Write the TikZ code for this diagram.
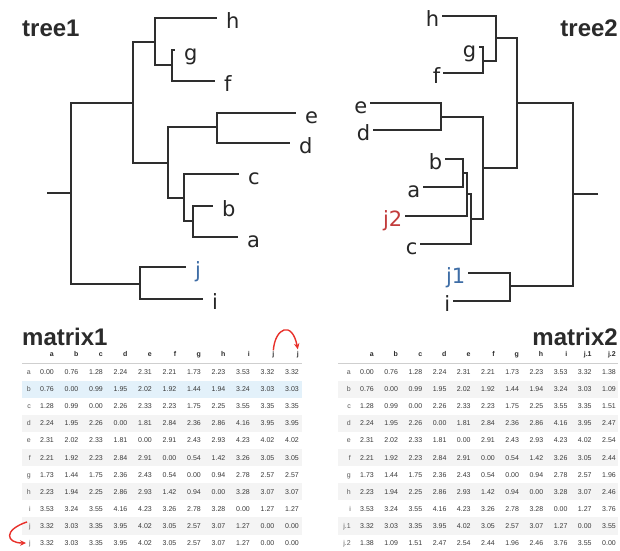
\documentclass[tikz,border=0pt]{standalone}
\usepackage{fontspec}
\setmainfont{Liberation Sans}
\newfontfamily\tipfont{DejaVu Sans}
\usetikzlibrary{arrows.meta}

\definecolor{edgegray}{HTML}{2E2E2E}
\definecolor{tipink}{HTML}{262626}
\definecolor{tipblue}{HTML}{3E6DA6}
\definecolor{tipred}{HTML}{C23B3B}
\definecolor{arrowred}{HTML}{E8302A}
\definecolor{stripe}{HTML}{F4F4F4}
\definecolor{hoverrow}{HTML}{E3F1FA}
\definecolor{rulegray}{HTML}{CFCFCF}
\definecolor{cellink}{HTML}{3A3A3A}
\definecolor{idxink}{HTML}{5A5A5A}
\definecolor{titleink}{HTML}{2B2B2B}

\tikzset{
  branch/.style={draw=edgegray, line width=2.9pt, line join=miter},
  tipL/.style={anchor=west, inner xsep=9pt, inner ysep=0pt, text height=20pt, text depth=0pt,
    font=\tipfont\fontsize{21}{24}\selectfont, text=tipink},
  tipR/.style={anchor=east, inner xsep=2.5pt, inner ysep=0pt, text height=20pt, text depth=0pt,
    font=\tipfont\fontsize{21}{24}\selectfont, text=tipink},
  heading/.style={inner sep=0pt, font=\fontsize{24}{28}\selectfont\bfseries, text=titleink},
  cellnum/.style={anchor=east, inner sep=0pt, text height=5pt, text depth=0pt,
    font=\fontsize{7}{8}\selectfont, text=cellink},
  colhead/.style={anchor=east, inner sep=0pt, text height=5pt, text depth=0pt,
    font=\fontsize{7}{8}\selectfont\bfseries, text=titleink},
  rowhead/.style={anchor=east, inner sep=0pt, text height=5pt, text depth=0pt,
    font=\fontsize{7}{8}\selectfont, text=idxink},
  swaparrow/.style={draw=arrowred, line width=1.4pt, -{Stealth[length=6pt,width=5.5pt]}},
}

\begin{document}
\begin{tikzpicture}[x=1pt,y=-1pt]
\fill[white] (0,0) rectangle (620,550);
\useasboundingbox (0,0) rectangle (620,550);

% ---------------- tree1 (tips on the right) ----------------
\node[heading, anchor=base west] (title1) at (22,36) {tree1};

\coordinate (p1root) at (71,193);
\coordinate (p1stub) at (47,193);
\coordinate (p1top)  at (133,103);
\coordinate (p1hgf)  at (155,42);
\coordinate (p1gf)   at (172,65);
\coordinate (p1low)  at (168,163);
\coordinate (p1de)   at (217,127);
\coordinate (p1abc)  at (184,198);
\coordinate (p1ab)   at (193,221);
\coordinate (p1ji)   at (140,284);

\node[tipL] (l1h) at (217,18)  {h};
\node[tipL] (l1g) at (175,50)  {g};
\node[tipL] (l1f) at (215,81)  {f};
\node[tipL] (l1e) at (296,113) {e};
\node[tipL] (l1d) at (290,143) {d};
\node[tipL] (l1c) at (239,174) {c};
\node[tipL] (l1b) at (213,206) {b};
\node[tipL] (l1a) at (238,237) {a};
\node[tipL, text=tipblue] (l1j) at (186,267) {j};
\node[tipL] (l1i) at (203,299) {i};

\draw[branch] (p1stub) -- (p1root);
\draw[branch] (p1root) |- (p1top);
\draw[branch] (p1root) |- (p1ji);
\draw[branch] (p1top) |- (p1hgf);
\draw[branch] (p1top) |- (p1low);
\draw[branch] (p1hgf) |- (l1h.west);
\draw[branch] (p1hgf) |- (p1gf);
\draw[branch] (p1gf) |- (l1g.west);
\draw[branch] (p1gf) |- (l1f.west);
\draw[branch] (p1low) |- (p1de);
\draw[branch] (p1low) |- (p1abc);
\draw[branch] (p1de) |- (l1e.west);
\draw[branch] (p1de) |- (l1d.west);
\draw[branch] (p1abc) |- (l1c.west);
\draw[branch] (p1abc) |- (p1ab);
\draw[branch] (p1ab) |- (l1b.west);
\draw[branch] (p1ab) |- (l1a.west);
\draw[branch] (p1ji) |- (l1j.west);
\draw[branch] (p1ji) |- (l1i.west);

% ---------------- tree2 (tips on the left) ----------------
\node[heading, anchor=base east] (title2) at (618,36) {tree2};

\coordinate (p2root) at (573,194);
\coordinate (p2stub) at (598,194);
\coordinate (p2top)  at (517,103);
\coordinate (p2hgf)  at (496,38);
\coordinate (p2gf)   at (483,61);
\coordinate (p2low)  at (483,168);
\coordinate (p2de)   at (441,117);
\coordinate (p2cz)   at (471,219);
\coordinate (p2jab)  at (467,194);
\coordinate (p2ab)   at (463,173);
\coordinate (p2ji)   at (510,286);

\node[tipR] (l2h) at (442,16)  {h};
\node[tipR] (l2g) at (479,47)  {g};
\node[tipR] (l2f) at (443,73)  {f};
\node[tipR] (l2e) at (370,103) {e};
\node[tipR] (l2d) at (373,130) {d};
\node[tipR] (l2b) at (445,159) {b};
\node[tipR] (l2a) at (423,187) {a};
\node[tipR, text=tipred] (l2j2) at (405,216) {j2};
\node[tipR] (l2c) at (420,244) {c};
\node[tipR, text=tipblue] (l2j1) at (468,273) {j1};
\node[tipR] (l2i) at (453,301) {i};

\draw[branch] (p2stub) -- (p2root);
\draw[branch] (p2root) |- (p2top);
\draw[branch] (p2root) |- (p2ji);
\draw[branch] (p2top) |- (p2hgf);
\draw[branch] (p2top) |- (p2low);
\draw[branch] (p2hgf) |- (l2h.east);
\draw[branch] (p2hgf) |- (p2gf);
\draw[branch] (p2gf) |- (l2g.east);
\draw[branch] (p2gf) |- (l2f.east);
\draw[branch] (p2low) |- (p2de);
\draw[branch] (p2low) |- (p2cz);
\draw[branch] (p2de) |- (l2e.east);
\draw[branch] (p2de) |- (l2d.east);
\draw[branch] (p2cz) |- (p2jab);
\draw[branch] (p2cz) |- (l2c.east);
\draw[branch] (p2jab) |- (p2ab);
\draw[branch] (p2jab) |- (l2j2.east);
\draw[branch] (p2ab) |- (l2b.east);
\draw[branch] (p2ab) |- (l2a.east);
\draw[branch] (p2ji) |- (l2j1.east);
\draw[branch] (p2ji) |- (l2i.east);

% ---------------- matrix1 ----------------
\node[heading, anchor=base west] (title3) at (22,345) {matrix1};
% row stripes (row b highlighted)
\foreach \r in {3,5,7,9} {
  \fill[stripe] (22,{363.5+17.1*\r}) rectangle (302,{380.6+17.1*\r});
}
\fill[hoverrow] (22,{363.5+17.1}) rectangle (302,{380.6+17.1});
\draw[rulegray, line width=0.8pt] (22,363) -- (302,363);

\foreach \h [count=\c from 0] in {a,b,c,d,e,f,g,h,i,j,j} {
  \node[colhead] (m1h\c) at ({54+24.5*\c},354) {\h};
}
\foreach \lab/\vals [count=\r from 0] in {
  a/{0.00,0.76,1.28,2.24,2.31,2.21,1.73,2.23,3.53,3.32,3.32},
  b/{0.76,0.00,0.99,1.95,2.02,1.92,1.44,1.94,3.24,3.03,3.03},
  c/{1.28,0.99,0.00,2.26,2.33,2.23,1.75,2.25,3.55,3.35,3.35},
  d/{2.24,1.95,2.26,0.00,1.81,2.84,2.36,2.86,4.16,3.95,3.95},
  e/{2.31,2.02,2.33,1.81,0.00,2.91,2.43,2.93,4.23,4.02,4.02},
  f/{2.21,1.92,2.23,2.84,2.91,0.00,0.54,1.42,3.26,3.05,3.05},
  g/{1.73,1.44,1.75,2.36,2.43,0.54,0.00,0.94,2.78,2.57,2.57},
  h/{2.23,1.94,2.25,2.86,2.93,1.42,0.94,0.00,3.28,3.07,3.07},
  i/{3.53,3.24,3.55,4.16,4.23,3.26,2.78,3.28,0.00,1.27,1.27},
  j/{3.32,3.03,3.35,3.95,4.02,3.05,2.57,3.07,1.27,0.00,0.00},
  j/{3.32,3.03,3.35,3.95,4.02,3.05,2.57,3.07,1.27,0.00,0.00}} {
  \node[rowhead] (m1r\r) at (31,{372+17.1*\r}) {\lab};
  \foreach \v [count=\c from 0] in \vals {
    \node[cellnum] (m1c\r-\c) at ({54+24.5*\c},{372+17.1*\r}) {\v};
  }
}
% duplicated tip j: column and row copies
\draw[swaparrow] ([yshift=1pt]m1h9.north) .. controls (275,328) and (292,320) .. ([yshift=2pt]m1h10.north);
\draw[swaparrow] ([xshift=-2pt,yshift=4pt]m1r9.west) .. controls (3,530) and (6,543) .. ([xshift=-3pt]m1r10.west);

% ---------------- matrix2 ----------------
\node[heading, anchor=base east] (title4) at (618,345) {matrix2};
\foreach \r in {1,3,5,7,9} {
  \fill[stripe] (338,{363.5+17.1*\r}) rectangle (618,{380.6+17.1*\r});
}
\draw[rulegray, line width=0.8pt] (338,363) -- (618,363);

\foreach \h [count=\c from 0] in {a,b,c,d,e,f,g,h,i,j.1,j.2} {
  \node[colhead] (m2h\c) at ({374+24.2*\c},354) {\h};
}
\foreach \lab/\vals [count=\r from 0] in {
  a/{0.00,0.76,1.28,2.24,2.31,2.21,1.73,2.23,3.53,3.32,1.38},
  b/{0.76,0.00,0.99,1.95,2.02,1.92,1.44,1.94,3.24,3.03,1.09},
  c/{1.28,0.99,0.00,2.26,2.33,2.23,1.75,2.25,3.55,3.35,1.51},
  d/{2.24,1.95,2.26,0.00,1.81,2.84,2.36,2.86,4.16,3.95,2.47},
  e/{2.31,2.02,2.33,1.81,0.00,2.91,2.43,2.93,4.23,4.02,2.54},
  f/{2.21,1.92,2.23,2.84,2.91,0.00,0.54,1.42,3.26,3.05,2.44},
  g/{1.73,1.44,1.75,2.36,2.43,0.54,0.00,0.94,2.78,2.57,1.96},
  h/{2.23,1.94,2.25,2.86,2.93,1.42,0.94,0.00,3.28,3.07,2.46},
  i/{3.53,3.24,3.55,4.16,4.23,3.26,2.78,3.28,0.00,1.27,3.76},
  j.1/{3.32,3.03,3.35,3.95,4.02,3.05,2.57,3.07,1.27,0.00,3.55},
  j.2/{1.38,1.09,1.51,2.47,2.54,2.44,1.96,2.46,3.76,3.55,0.00}} {
  \node[rowhead] (m2r\r) at (351,{372+17.1*\r}) {\lab};
  \foreach \v [count=\c from 0] in \vals {
    \node[cellnum] (m2c\r-\c) at ({374+24.2*\c},{372+17.1*\r}) {\v};
  }
}
\end{tikzpicture}
\end{document}
